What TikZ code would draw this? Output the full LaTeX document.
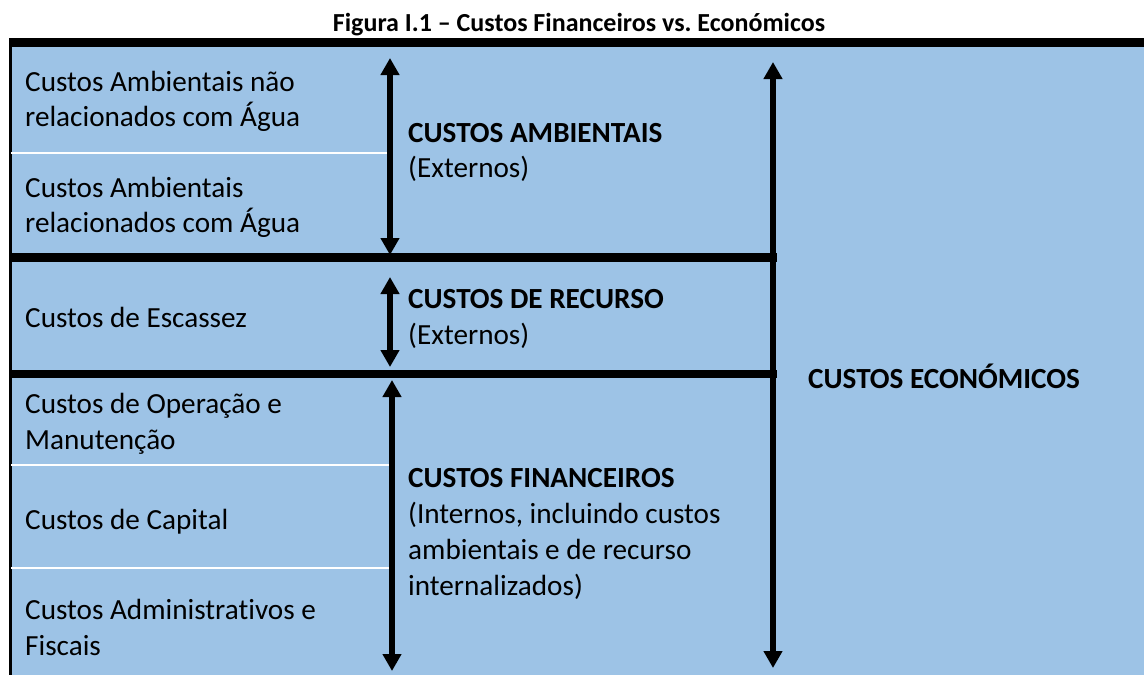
\documentclass[tikz,border=0pt]{standalone}
\usepackage{fontspec}
\setmainfont{Carlito}[Ligatures={TeX,CommonOff,ContextualOff}]
\usetikzlibrary{arrows.meta}
\definecolor{azul}{HTML}{9DC3E6}
\frenchspacing
\newcommand{\ponta}{Triangle[width=18pt,length=17pt]}
% base = linha de base da ultima linha do texto
\tikzset{
  rotulo/.style={anchor=base west, inner sep=0pt, align=left,
    font=\fontsize{29.2}{35.7}\selectfont},
  seta/.style={line width=5.5pt, {\ponta}-{\ponta}},
  divisao/.style={line width=8.5pt},
  linhabranca/.style={white, line width=2.5pt}
}

\begin{document}
\begin{tikzpicture}[x=1pt, y=-1pt]
  \useasboundingbox (0,0) rectangle (1144,675);
  % fundo e moldura
  \fill[azul] (11,45) rectangle (1144,675);
  \fill (9,38) rectangle (1144,47);
  \fill (9,38) rectangle (12,675);
  \node[anchor=base, inner sep=0pt, font=\bfseries\fontsize{26}{30}\selectfont]
    (titulo) at (579,31) {Figura I.1 – Custos Financeiros vs. Económicos};
  % separadores
  \foreach \i/\y in {1/153,2/465,3/568}
    {\coordinate (b\i) at (11,\y); \coordinate (e\i) at (389,\y);
     \draw[linhabranca] (b\i) -- (e\i);}
  \foreach \i/\y in {1/257.5,2/374}
    {\coordinate (p\i) at (9,\y); \coordinate (q\i) at (777,\y);
     \draw[divisao] (p\i) -- (q\i);}
  % custos parciais
  \foreach \nome/\yb/\texto in {naoagua/126.7/{Custos Ambientais não\\relacionados com Água},
      agua/232.7/{Custos Ambientais\\relacionados com Água},
      escassez/327.5/{Custos de Escassez},
      operacao/449.5/{Custos de Operação e\\Manutenção},
      capital/529.5/{Custos de Capital},
      admin/655.5/{Custos Administrativos e\\Fiscais}}
    {\node[rotulo] (\nome) at (25,\yb) {\texto};}
  % grupos de custos
  \node[rotulo] (ambientais) at (408,177.7) {\textbf{CUSTOS AMBIENTAIS}\\(Externos)};
  \node[rotulo] (recurso) at (408,344) {\textbf{CUSTOS DE RECURSO}\\(Externos)};
  \node[rotulo] (financeiros) at (408,595)
    {\textbf{CUSTOS FINANCEIROS}\\(Internos, incluindo custos\\ambientais e de recurso\\internalizados)};
  \node[rotulo, font=\bfseries\fontsize{29.2}{35.7}\selectfont] (economicos) at (808,388)
    {CUSTOS ECONÓMICOS};
  % setas
  \coordinate (a1) at (390,58);  \coordinate (a2) at (390,255);
  \coordinate (r1) at (390,277); \coordinate (r2) at (390,367);
  \coordinate (f1) at (392,380); \coordinate (f2) at (392,671);
  \coordinate (c1) at (773,62);  \coordinate (c2) at (773,668);
  \draw[seta] (a1) -- (a2);
  \draw[seta] (r1) -- (r2);
  \draw[seta] (f1) -- (f2);
  \draw[seta] (c1) -- (c2);
\end{tikzpicture}
\end{document}
